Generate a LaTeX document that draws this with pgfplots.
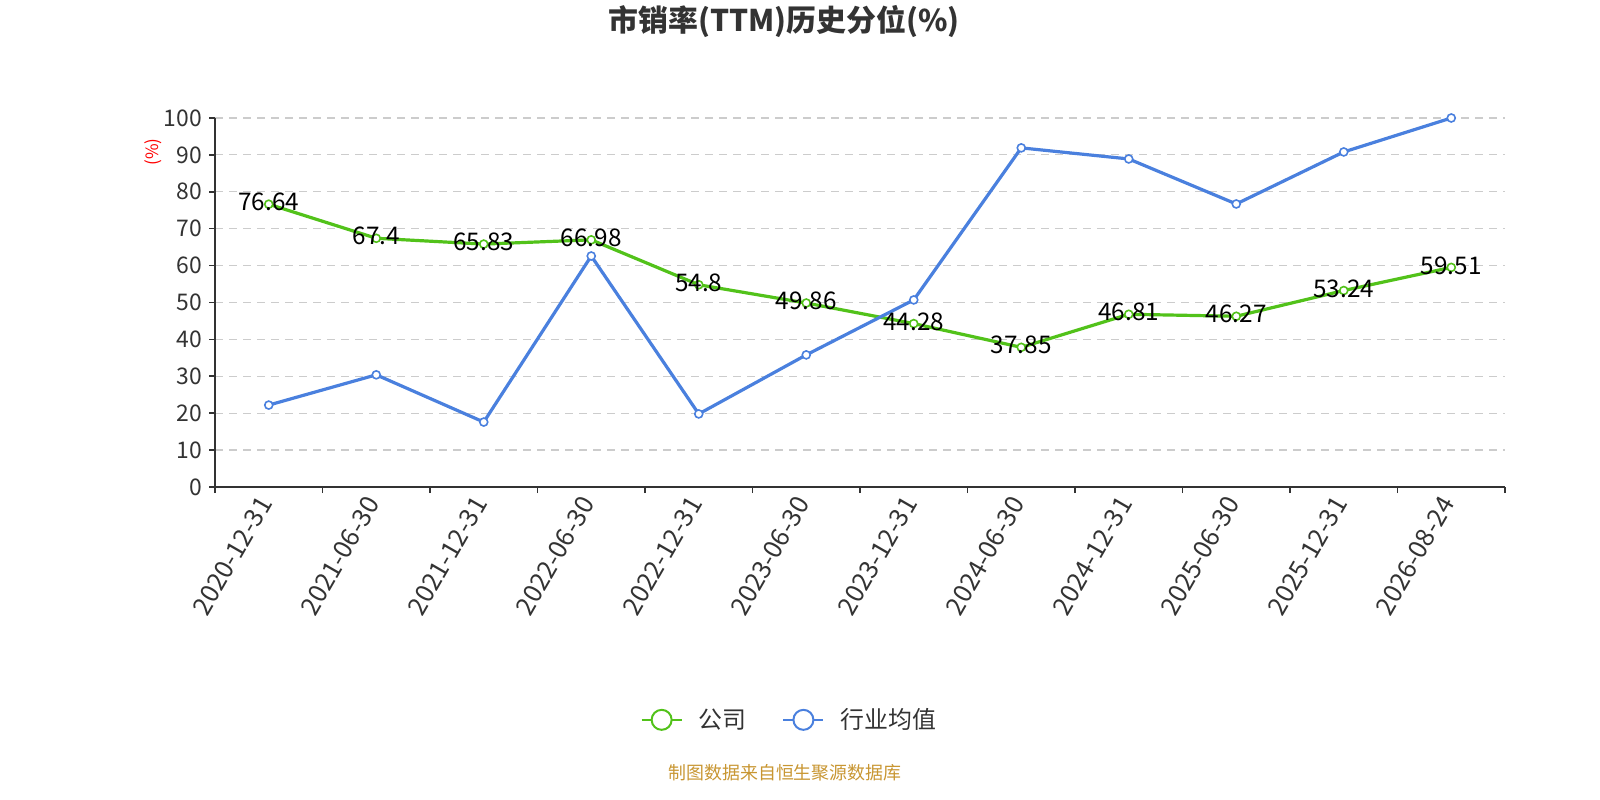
\documentclass[border=0pt]{standalone}
\usepackage{pgfplots}
\pgfplotsset{compat=1.18}
\usepackage{fontspec}
\setmainfont{Noto Sans CJK SC}
\definecolor{cgreen}{RGB}{82,194,26}
\definecolor{cblue}{RGB}{74,128,222}
\definecolor{axisgray}{RGB}{51,51,51}
\definecolor{gridgray}{RGB}{204,204,204}
\definecolor{footer}{RGB}{200,150,50}
\begin{document}
\begin{tikzpicture}
\begin{axis}[
  at={(107.5bp,156.5bp)}, anchor=south west,
  scale only axis, width=645bp, height=184.5bp,
  /pgf/number format/assume math mode=true,
  xmin=-0.5, xmax=11.5, ymin=0, ymax=100,
  axis x line*=bottom, axis y line*=left,
  axis line style={axisgray, line width=0.9bp},
  xtick={0,...,11},
  xticklabels={2020-12-31,2021-06-30,2021-12-31,2022-06-30,2022-12-31,2023-06-30,2023-12-31,2024-06-30,2024-12-31,2025-06-30,2025-12-31,2026-08-24},
  minor xtick={-0.5,0.5,...,11.5},
  major x tick style={draw=none},
  ytick={0,10,...,100},
  tick align=outside, major tick length=3bp, minor tick length=3bp,
  tick style={axisgray, line width=0.8bp},
  ymajorgrids, grid style={gridgray, line width=0.6bp, dash pattern=on 4bp off 3bp},
  ticklabel style={font=\fontsize{11.5}{13}\selectfont, text=axisgray},
  xticklabel style={rotate=60, anchor=east, font=\fontsize{12.8}{14}\selectfont},
  ylabel={(\%)},
  ylabel style={at={(axis description cs:-0.048,0.908)}, anchor=center, text=red, font=\fontsize{8.5}{10}\selectfont},
  legend style={at={(axis description cs:0.446,-0.631)}, anchor=center, draw=none, fill=none,
    legend columns=2, font=\fontsize{12}{14}\selectfont, text=axisgray,
    /tikz/every odd column/.append style={column sep=6bp},
    /tikz/every even column/.append style={column sep=16bp}},
  legend image code/.code={\draw[#1, line width=1bp] (0bp,0bp) -- (20bp,0bp); \draw[#1, line width=1bp, fill=white] (10bp,0bp) circle (5bp);},
]
\addplot[cgreen, line width=1.6bp, mark=*, mark size=2bp, mark options={fill=white, line width=0.8bp}]
  coordinates {(0,76.64)(1,67.4)(2,65.83)(3,66.98)(4,54.8)(5,49.86)(6,44.28)(7,37.85)(8,46.81)(9,46.27)(10,53.24)(11,59.51)};
\addlegendentry{公司}
\addplot[cblue, line width=1.6bp, mark=*, mark size=2bp, mark options={fill=white, line width=0.8bp}]
  coordinates {(0,22.2)(1,30.4)(2,17.6)(3,62.6)(4,19.8)(5,35.8)(6,50.7)(7,91.9)(8,88.9)(9,76.7)(10,90.8)(11,100)};
\addlegendentry{行业均值}
\addplot[draw=none, mark=none, forget plot, nodes near coords,
  every node near coord/.append style={anchor=center, yshift=1bp, text=black, font=\fontsize{12.2}{14}\selectfont}]
  coordinates {(0,76.64)(1,67.4)(2,65.83)(3,66.98)(4,54.8)(5,49.86)(6,44.28)(7,37.85)(8,46.81)(9,46.27)(10,53.24)(11,59.51)};
\end{axis}
\node[font=\fontsize{15}{18}\selectfont\bfseries, text=axisgray] at (392bp,389bp) {市销率(TTM)历史分位(\%)};
\node[font=\fontsize{9}{11}\selectfont, text=footer] at (392.5bp,13.5bp) {制图数据来自恒生聚源数据库};
\pgfresetboundingbox
\path (0,0) rectangle (800bp,400bp);
\end{tikzpicture}
\end{document}
